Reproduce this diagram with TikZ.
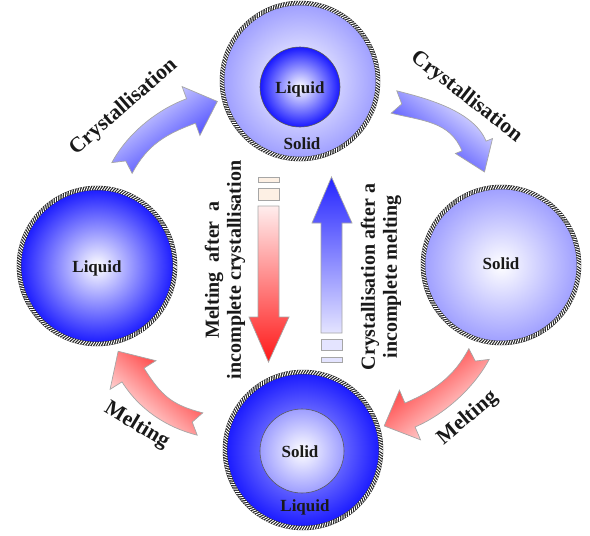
\documentclass[tikz,border=0pt]{standalone}
\usepackage{fontspec}
\setmainfont{Liberation Serif}
\usetikzlibrary{calc,decorations.markings}

\definecolor{ballblue}{RGB}{24,24,255}
\definecolor{lav}{RGB}{158,158,255}
\definecolor{lavlight}{RGB}{228,228,255}
\definecolor{paleblue}{RGB}{244,244,255}
\definecolor{peach}{RGB}{253,240,228}
\definecolor{arrred}{RGB}{255,24,24}
\definecolor{arrblue}{RGB}{36,36,255}

\pgfdeclareradialshading{ballB}{\pgfpoint{0bp}{0bp}}{color(0bp)=(white); color(25bp)=(ballblue); color(50bp)=(ballblue)}
\pgfdeclareradialshading{ballL}{\pgfpoint{0bp}{0bp}}{color(0bp)=(white); color(25bp)=(lav); color(50bp)=(lav)}
\pgfdeclareradialshading{ballD}{\pgfpoint{0bp}{0bp}}{color(0bp)=(white); color(12bp)=(ballblue!65!white); color(25bp)=(ballblue); color(50bp)=(ballblue)}

\newcommand\circfont{\fontsize{17}{20}\selectfont\bfseries}
\newcommand\vertfont{\fontsize{20}{22}\selectfont\bfseries}
\newcommand\arlfont{\fontsize{21.5}{24}\selectfont\bfseries}

% curved block arrow: tail point, tail angle, head base point, head angle, head half width, style
\newcommand\carrow[6]{%
 \path[#6] ($(#1)+(#2-90:11.5)$) .. controls ($(#1)+(#2-90:11.5)+(#2:32)$) and ($(#3)+(#4-90:13)+(#4:-32)$) .. ($(#3)+(#4-90:13)$)
 -- ($(#3)+(#4-90:#5)$) -- ($(#3)+(#4:28)$) -- ($(#3)+(#4+90:#5)$) -- ($(#3)+(#4+90:13)$)
 .. controls ($(#3)+(#4+90:13)+(#4:-32)$) and ($(#1)+(#2+90:11.5)+(#2:32)$) .. ($(#1)+(#2+90:11.5)$)
 -- ($(#1)+(#2:8)$) -- cycle;}

\tikzset{
 ring/.style={draw=black!85, line width=4.5pt, inner sep=0pt, circle, minimum size=156pt,
   postaction={decorate, decoration={markings, mark=between positions 0 and 1 step 2.6pt with
   {\draw[white, line width=0.9pt] (-1.2pt,-2pt) -- (1.2pt,2pt);}}}},
 core/.style={circle, inner sep=0pt, draw=black!65, line width=0.6pt},
 clabel/.style={font=\circfont, text=black!90, inner sep=0pt},
 vlabel/.style={font=\vertfont, text=black!90, align=center, rotate=90, inner sep=0pt},
 alabel/.style={font=\arlfont, text=black!90, inner sep=0pt, anchor=base},
 bluearr/.style={draw=gray!70, line width=0.7pt, left color=paleblue, right color=arrblue},
 redarr/.style={draw=gray!70, line width=0.7pt, left color=white, right color=arrred},
 stub/.style={draw=gray!70, line width=0.7pt},
}

\begin{document}
\begin{tikzpicture}[x=1pt, y=-1pt]
\useasboundingbox (0,0) rectangle (590,536);

% circles
\node[ring, shading=ballL] (cT) at (300,81) {};
\node[core, shading=ballB, minimum size=80pt] (iT) at (300,87) {};
\node[clabel] (tLiq) at (300,89) {Liquid};
\node[clabel] (tSol) at (302,144) {Solid};

\node[ring, shading=ballB] (cL) at (97,266) {};
\node[clabel] (lLiq) at (97,268) {Liquid};

\node[ring, shading=ballL] (cR) at (501,265) {};
\node[clabel] (rSol) at (501,264) {Solid};

\node[ring, shading=ballD] (cB) at (303,450) {};
\node[core, shading=ballL, minimum size=84pt] (iB) at (302,451) {};
\node[clabel] (bSol) at (300,452) {Solid};
\node[clabel] (bLiq) at (305,507) {Liquid};

% curved arrows
\coordinate (tlT) at (122,168); \coordinate (tlH) at (191,111);
\coordinate (trT) at (394,102); \coordinate (trH) at (474,146);
\coordinate (brT) at (479,354); \coordinate (brH) at (410,415);
\coordinate (blT) at (200,424); \coordinate (blH) at (133,375);
\carrow{tlT}{-62}{tlH}{-20}{26}{bluearr, shading angle=36}
\carrow{trT}{14}{trH}{68}{20}{bluearr, shading angle=-37}
\carrow{brT}{118}{brH}{157}{27}{redarr, shading angle=218}
\carrow{blT}{194}{blH}{238}{27}{redarr, shading angle=139}

% arrow labels
\node[alabel, rotate=41] (aTL) at (127,111) {Crystallisation};
\node[alabel, rotate=-38] (aTR) at (463,101) {Crystallisation};
\node[alabel, rotate=-31] (aBL) at (134,430) {Melting};
\node[alabel, rotate=40] (aBR) at (471,422) {Melting};

% vertical arrows
\path[stub, fill=peach] (258,177) rectangle (279,182);
\path[stub, fill=peach] (258,188) rectangle (279,200);
\path[stub, top color=red!7, bottom color=arrred] (258,206) -- (279,206) -- (279,317) -- (289,317) -- (268.5,362) -- (249,317) -- (258,317) -- cycle;

\path[stub, top color=arrblue, bottom color=lavlight] (331.5,177) -- (352,223) -- (342,223) -- (342,333) -- (321,333) -- (321,223) -- (312,223) -- cycle;
\path[stub, fill=lavlight] (321,339) rectangle (342,350);
\path[stub, fill=lavlight] (321,357) rectangle (342,362);

% vertical labels
\node[vlabel] (vL) at (225,270) {Melting\ \ after\ \ a\\incomplete crystallisation};
\node[vlabel] (vR) at (381,277) {Crystallisation after a\\incomplete melting};
\end{tikzpicture}
\end{document}
